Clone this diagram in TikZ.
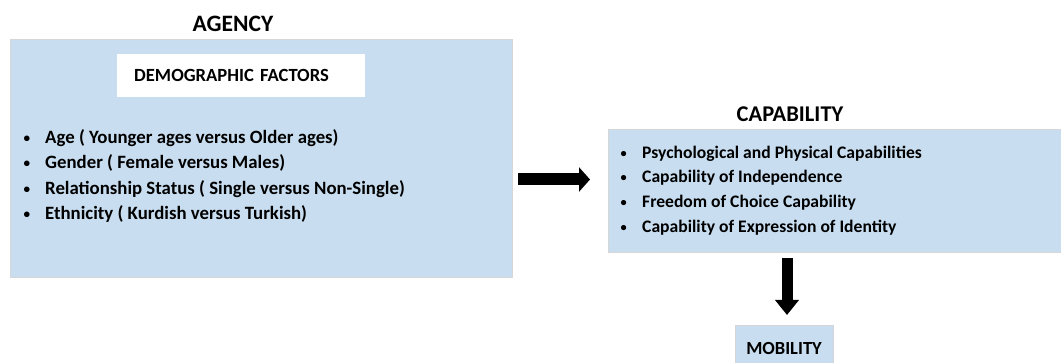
\documentclass[tikz,border=0pt]{standalone}
\usepackage{fontspec}
\setmainfont{Carlito}
\usetikzlibrary{arrows.meta}
\definecolor{boxblue}{RGB}{200,222,240}
\definecolor{boxline}{RGB}{214,214,214}
\tikzset{panel/.style={draw=boxline,line width=1pt,fill=boxblue,inner sep=0pt}}
\tikzset{heading/.style={font=\fontsize{23.5}{27}\selectfont\bfseries}}
\tikzset{itemlist/.style={align=left,inner sep=0pt,anchor=north west}}
\tikzset{fatarrow/.style={draw=black,line width=12pt}}
\newcommand{\bul}{\makebox[23pt][l]{\hspace{1.5pt}\raisebox{1pt}{\scalebox{0.7}{\textbullet}}}}

\begin{document}
\begin{tikzpicture}[x=1pt,y=-1pt]
  \useasboundingbox (0,0) rectangle (1061,363);
  % left block
  \node[heading] (agencytitle) at (233,24) {AGENCY};
  \node[panel,anchor=north west,minimum width=502pt,minimum height=238pt] (agency) at (10,39) {};
  \node[fill=white,anchor=west,inner xsep=17pt,inner ysep=0pt,text width=214pt,minimum height=43pt,
        font=\fontsize{18.6}{22}\selectfont\bfseries] (demo) at (117,75.5) {DEMOGRAPHIC FACTORS};
  \node[itemlist,font=\fontsize{18.8}{25.3}\selectfont\bfseries] (agencyitems) at (22,129.5)
    {\bul Age ( Younger ages versus Older ages)\\
     \bul Gender ( Female versus Males)\\
     \bul Relationship Status ( Single versus Non-Single)\\
     \bul Ethnicity ( Kurdish versus Turkish)};

  % right block
  \node[heading,font=\fontsize{22.5}{26}\selectfont\bfseries] (capabtitle) at (790,114) {CAPABILITY};
  \node[panel,anchor=north west,minimum width=454pt,minimum height=123pt] (capab) at (608,129) {};
  \node[itemlist,font=\fontsize{17.6}{24.7}\selectfont\bfseries] (capabitems) at (619,145.5)
    {\bul Psychological and Physical Capabilities\\
     \bul Capability of Independence\\
     \bul Freedom of Choice Capability\\
     \bul Capability of Expression of Identity};

  \node[panel,anchor=north,minimum width=98pt,minimum height=45pt,
        font=\fontsize{18.5}{22}\selectfont\bfseries] (mobility) at (784,325) {MOBILITY};

  % arrows
  \draw[fatarrow,-{Triangle[width=24pt,length=11pt]}]
    ([shift={(5,21)}]agency.east) -- ([shift={(-18,-11.5)}]capab.west);
  \coordinate (downtop) at (787,258);
  \draw[fatarrow,line width=11pt,-{Triangle[width=23pt,length=15pt]}]
    (downtop) -- ([shift={(3,-10)}]mobility.north);
\end{tikzpicture}
\end{document}
